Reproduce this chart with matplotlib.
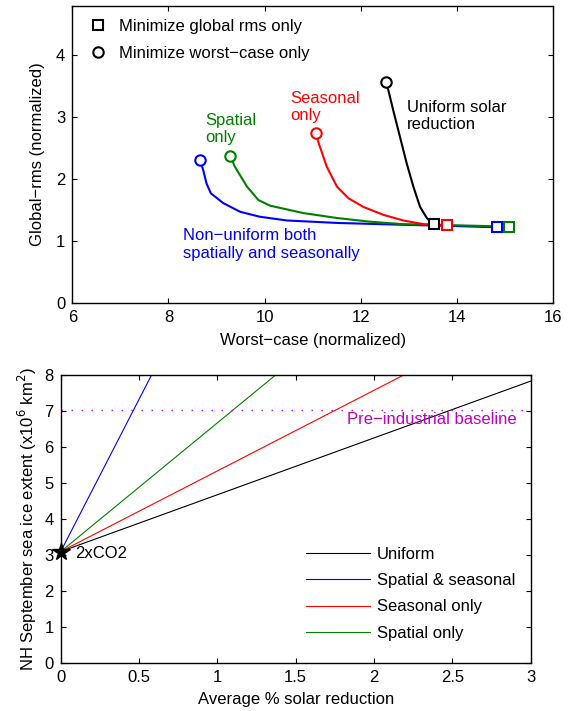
import numpy as np
import matplotlib
matplotlib.use("Agg")
import matplotlib.pyplot as plt
from matplotlib.lines import Line2D

plt.rcParams['font.family'] = ['Liberation Sans', 'DejaVu Sans']
plt.rcParams['font.size'] = 12

GREEN = (0, 0.5, 0)
MAGENTA = (0.75, 0, 0.75)
FS = 12

# --- top panel: trade-off curves (worst-case vs global rms) ---
uni_x = [12.52, 12.57, 12.67, 12.81, 12.95, 13.09, 13.23, 13.37, 13.51]
uni_y = [3.57, 3.44, 3.12, 2.69, 2.26, 1.88, 1.55, 1.37, 1.27]

sea_x = [11.06, 11.11, 11.29, 11.50, 11.74, 12.05, 12.47, 12.88, 13.30, 13.78]
sea_y = [2.74, 2.61, 2.20, 1.88, 1.69, 1.55, 1.42, 1.33, 1.27, 1.25]

spa_x = [9.28, 9.38, 9.63, 9.87, 10.11, 10.80, 11.50, 12.19, 12.88, 13.58, 15.08]
spa_y = [2.38, 2.20, 1.88, 1.66, 1.57, 1.45, 1.37, 1.31, 1.27, 1.26, 1.23]

both_x = [8.65, 8.72, 8.79, 8.88, 9.14, 9.49, 9.90, 10.46, 11.50, 12.88, 13.92, 14.83]
both_y = [2.31, 2.15, 1.93, 1.77, 1.61, 1.47, 1.39, 1.33, 1.29, 1.26, 1.24, 1.22]

# --- bottom panel: sea ice extent vs solar reduction (straight lines) ---
start_x, start_y = 0.0, 3.1
line_labels = ["Uniform", "Spatial & seasonal", "Seasonal only", "Spatial only"]
line_end_x = [3.0, 0.58, 2.19, 1.372]
line_end_y = [7.83, 8.0, 8.0, 8.0]
line_colors = ["k", "b", "r", GREEN]
baseline = 7.04

fig = plt.figure(figsize=(5.71, 7.11), dpi=100)

# top panel
ax1 = fig.add_axes([0.1266, 0.5743, 0.8424, 0.4173])
curves = [(both_x, both_y, "b"), (spa_x, spa_y, GREEN),
          (sea_x, sea_y, "r"), (uni_x, uni_y, "k")]
for xs, ys, c in curves:
    ax1.plot(xs, ys, color=c, lw=1.5)
    ax1.plot(xs[0], ys[0], 'o', ms=7.5, mfc='white', mec=c, mew=1.5, zorder=5)
    ax1.plot(xs[-1], ys[-1], 's', ms=6.5, mfc='white', mec=c, mew=1.5, zorder=5)

ax1.text(8.77, 2.81, "Spatial\nonly", color=GREEN, va='center', fontsize=FS)
ax1.text(10.54, 3.17, "Seasonal\nonly", color="r", va='center', fontsize=FS)
ax1.text(12.95, 3.02, "Uniform solar\nreduction", color="k", va='center', fontsize=FS)
ax1.text(8.31, 0.94, "Non\u2212uniform both\nspatially and seasonally", color="b",
         va='center', fontsize=FS)

handles = [Line2D([], [], ls='none', marker='s', ms=6.5, mfc='white', mec='k', mew=1.5),
           Line2D([], [], ls='none', marker='o', ms=7.5, mfc='white', mec='k', mew=1.5)]
ax1.legend(handles, ["Minimize global rms only", "Minimize worst\u2212case only"],
           loc='upper left', bbox_to_anchor=(0.0363, 0.9575), frameon=False,
           fontsize=FS, handlelength=1.0, handletextpad=0.77, labelspacing=0.73,
           borderpad=0, borderaxespad=0)

ax1.set_xlim(6, 16)
ax1.set_ylim(0, 4.8)
ax1.set_xticks([6, 8, 10, 12, 14, 16])
ax1.set_yticks([0, 1, 2, 3, 4])
ax1.set_xlabel("Worst\u2212case (normalized)", fontsize=FS, labelpad=6)
ax1.set_ylabel("Global\u2212rms (normalized)", fontsize=FS, labelpad=8)

# bottom panel
ax2 = fig.add_axes([0.1063, 0.0671, 0.8231, 0.4055])
for lab, ex, ey, c in zip(line_labels, line_end_x, line_end_y, line_colors):
    ax2.plot([start_x, ex], [start_y, ey], color=c, lw=0.8, label=lab)
ax2.axhline(baseline, color=MAGENTA, ls=(0, (1, 6.2)), lw=1.0)
ax2.text(1.83, 6.77, "Pre\u2212industrial baseline", color=MAGENTA, va='center',
         fontsize=FS)
ax2.plot(start_x, start_y, '*', color='k', ms=13, clip_on=False, zorder=6)
ax2.text(0.095, 3.04, "2xCO2", va='center', fontsize=FS)

ax2.legend(loc='upper left', bbox_to_anchor=(0.522, 0.404), frameon=False,
           fontsize=FS, handlelength=3.82, handletextpad=0.42,
           labelspacing=0.68, borderpad=0, borderaxespad=0)

ax2.set_xlim(0, 3)
ax2.set_ylim(0, 8)
ax2.set_xticks([0, 0.5, 1, 1.5, 2, 2.5, 3])
ax2.set_xticklabels(["0", "0.5", "1", "1.5", "2", "2.5", "3"])
ax2.set_yticks(range(0, 9))
ax2.set_xlabel("Average % solar reduction", fontsize=FS, labelpad=5)
ax2.set_ylabel("NH September sea ice extent (x10$^6$ km$^2$)", fontsize=FS,
               labelpad=4)

for ax in (ax1, ax2):
    ax.tick_params(direction='in', top=True, right=True, length=3.3, width=0.8,
                   labelsize=FS, pad=5)
    for s in ax.spines.values():
        s.set_linewidth(1.0)

fig.savefig("out.png", dpi=100)
